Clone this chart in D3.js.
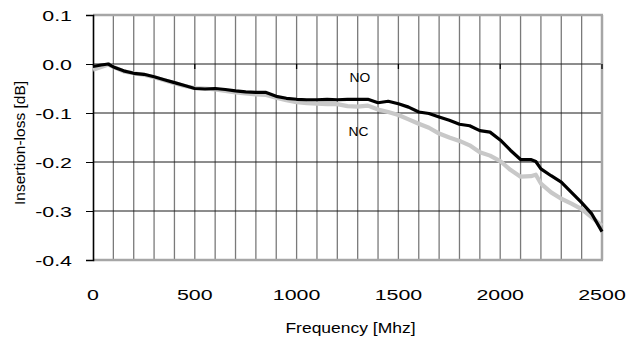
<!DOCTYPE html>
<html><head><meta charset="utf-8">
<script src="https://cdn.jsdelivr.net/npm/d3@7"></script>
<style>body{margin:0;background:#fff}svg{display:block}text{font-family:"Liberation Sans",Arial,sans-serif;fill:#000}</style>
</head><body><svg id="c" width="628" height="337"></svg>
<script>
const freq = [0,40,75,100,150,200,250,300,350,400,450,500,550,600,650,700,750,800,850,900,950,1000,1050,1100,1150,1200,1250,1300,1350,1400,1450,1500,1550,1600,1650,1700,1750,1800,1850,1900,1950,2000,2050,2100,2150,2175,2200,2250,2300,2350,2400,2450,2500];
const seriesNO = [-0.005,-0.002,0.000,-0.006,-0.014,-0.019,-0.021,-0.026,-0.032,-0.038,-0.044,-0.050,-0.051,-0.050,-0.052,-0.055,-0.057,-0.058,-0.058,-0.066,-0.070,-0.072,-0.073,-0.073,-0.072,-0.073,-0.072,-0.072,-0.072,-0.079,-0.076,-0.081,-0.088,-0.098,-0.101,-0.108,-0.115,-0.123,-0.126,-0.136,-0.139,-0.155,-0.176,-0.195,-0.195,-0.199,-0.214,-0.228,-0.241,-0.262,-0.283,-0.306,-0.342];
const seriesNC = [-0.012,-0.006,-0.001,-0.006,-0.015,-0.019,-0.022,-0.027,-0.033,-0.039,-0.045,-0.049,-0.050,-0.052,-0.055,-0.058,-0.060,-0.062,-0.063,-0.069,-0.074,-0.078,-0.080,-0.081,-0.082,-0.082,-0.086,-0.087,-0.085,-0.093,-0.098,-0.104,-0.113,-0.122,-0.130,-0.142,-0.150,-0.157,-0.166,-0.180,-0.187,-0.198,-0.216,-0.230,-0.229,-0.226,-0.244,-0.262,-0.275,-0.285,-0.296,-0.313,-0.330];
const xTicks = [0,500,1000,1500,2000,2500];
const xGrid = d3.range(0,2501,100);
const yTicks = [0.1,0.0,-0.1,-0.2,-0.3,-0.4];
const seriesLabels = [{name:"NO",f:1260,v:-0.036},{name:"NC",f:1255,v:-0.146}];

const svg = d3.select("#c");
const L=93,R=602,T=15,B=260, SX=1.38;
const x = d3.scaleLinear().domain([0,2500]).range([L,R]);
const y = d3.scaleLinear().domain([-0.4,0.1]).range([B,T]);

// vertical grid
svg.append("g").selectAll("line").data(xGrid.filter(d=>d>0&&d<2500)).join("line")
  .attr("x1",d=>x(d)).attr("x2",d=>x(d)).attr("y1",T).attr("y2",B)
  .attr("stroke","#7a7a7a").attr("stroke-width",1.3);
// horizontal grid
svg.append("g").selectAll("line").data(yTicks.filter(d=>d<0.05&&d>-0.35)).join("line")
  .attr("x1",L).attr("x2",R).attr("y1",d=>y(d)).attr("y2",d=>y(d))
  .attr("stroke","#1a1a1a").attr("stroke-width",1);
// borders
svg.append("line").attr("x1",L).attr("x2",R+1).attr("y1",T).attr("y2",T).attr("stroke","#a6a6a6").attr("stroke-width",2.5);
svg.append("line").attr("x1",R).attr("x2",R).attr("y1",T).attr("y2",B).attr("stroke","#a6a6a6").attr("stroke-width",2.5);
svg.append("line").attr("x1",L).attr("x2",R+1).attr("y1",B).attr("y2",B).attr("stroke","#a6a6a6").attr("stroke-width",2.5);
// x-axis ticks on y=0 line
svg.append("g").selectAll("line").data(xTicks.filter(d=>d>0)).join("line")
  .attr("x1",d=>x(d)).attr("x2",d=>x(d)).attr("y1",y(0)-0).attr("y2",y(0)+5)
  .attr("stroke","#000").attr("stroke-width",1.3);
// left axis
const yAxis = d3.axisLeft(y).tickValues(yTicks).tickSize(7).tickFormat(d3.format(".1f"));
const ga = svg.append("g").attr("transform",`translate(${L},0)`).call(yAxis);
ga.select(".domain").attr("stroke","#000").attr("stroke-width",1.6);
ga.selectAll(".tick line").attr("stroke","#000").attr("stroke-width",1);
ga.selectAll(".tick text").remove();
svg.append("g").selectAll("text").data(yTicks).join("text")
  .attr("transform",d=>`translate(72,${y(d)+5.5}) scale(${SX},1)`)
  .attr("text-anchor","end").attr("font-size",15.5)
  .text(d=>d3.format(".1f")(d).replace("−","-"));
// x tick labels
svg.append("g").selectAll("text").data(xTicks).join("text")
  .attr("transform",d=>`translate(${x(d)},${300}) scale(${SX},1)`)
  .attr("text-anchor","middle").attr("font-size",15.5).text(d=>d);

// lines
const line = d3.line().x((d,i)=>x(freq[i])).y(d=>y(d));
svg.append("path").attr("d",line(seriesNC)).attr("fill","none").attr("stroke","#c8c8c8").attr("stroke-width",4.2).attr("stroke-linejoin","round");
svg.append("path").attr("d",line(seriesNO)).attr("fill","none").attr("stroke","#000").attr("stroke-width",3.2).attr("stroke-linejoin","round");

// series labels
svg.append("g").selectAll("text").data(seriesLabels).join("text")
  .attr("transform",d=>`translate(${x(d.f)},${y(d.v)}) scale(1.15,1)`)
  .attr("font-size",12).text(d=>d.name);

// titles
svg.append("text").attr("transform",`translate(${(L+R)/2+3},333) scale(1.25,1)`)
  .attr("text-anchor","middle").attr("font-size",14).text("Frequency [Mhz]");
svg.append("text").attr("transform",`translate(25,143) rotate(-90)`)
  .attr("text-anchor","middle").attr("font-size",15.5).text("Insertion-loss [dB]");
</script></body></html>
